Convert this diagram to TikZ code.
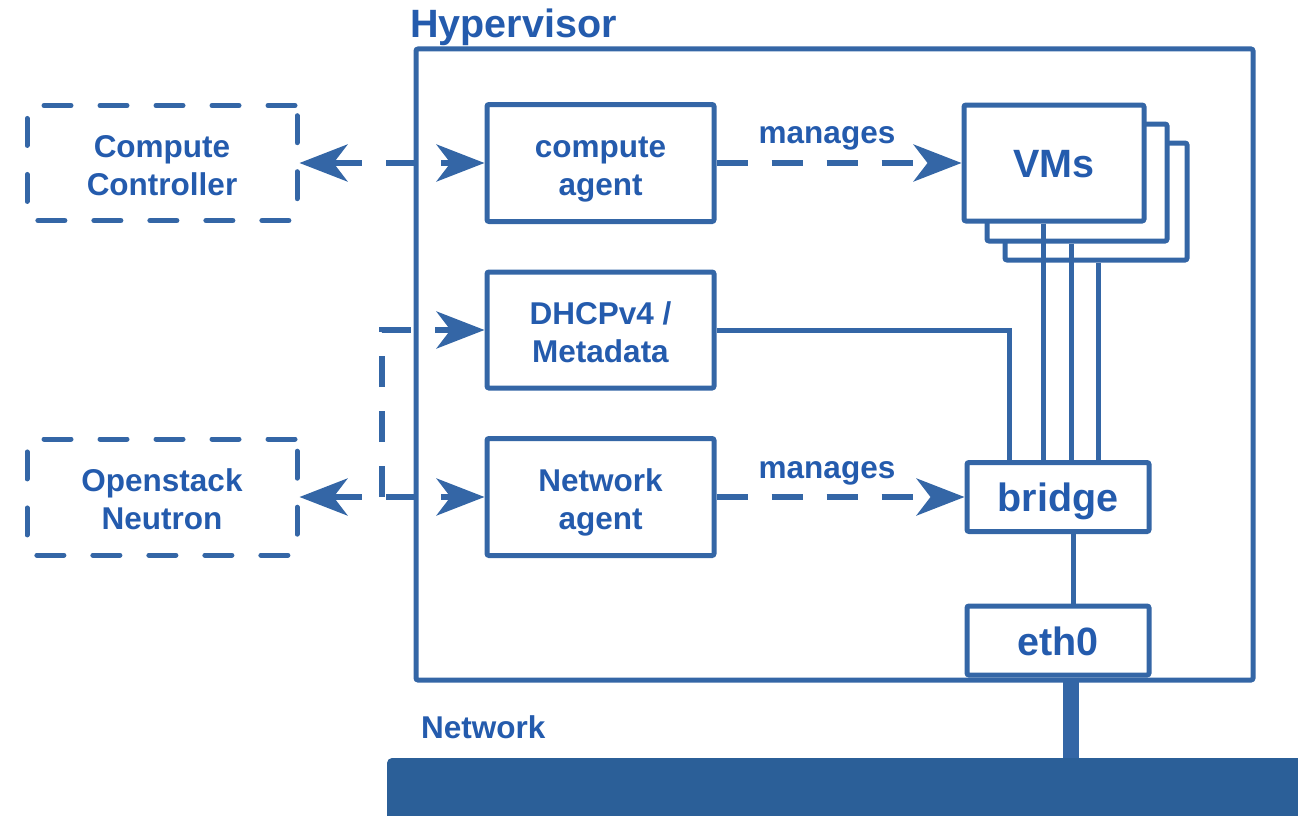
\documentclass[tikz,border=0pt]{standalone}
\usepackage{fontspec}
\setmainfont{Liberation Sans}
\usetikzlibrary{arrows.meta}
\definecolor{lc}{RGB}{52,102,166}
\definecolor{tc}{RGB}{36,91,173}
\definecolor{bc}{RGB}{43,95,152}
\begin{document}
\begin{tikzpicture}[x=1pt,y=-1pt,
  txt/.style={text=tc, font=\bfseries\fontsize{31.5}{38}\selectfont, align=center, inner sep=0pt},
  bigtxt/.style={text=tc, font=\bfseries\fontsize{39.5}{47}\selectfont, align=center, inner sep=0pt},
  box/.style={txt, draw=lc, line width=5pt, fill=white, rounded corners=2pt, text height=65pt, text depth=0pt},
  bigbox/.style={box, font=\bfseries\fontsize{39.5}{47}\selectfont, text height=29pt, text depth=0pt},
  dbox/.style={txt, draw=lc, line width=5pt, line cap=round, dash pattern=on 27pt off 29pt, rounded corners=2pt, text height=65pt, text depth=0pt},
  conn/.style={draw=lc, line width=5pt},
  darrow/.style={draw=lc, line width=5.5pt, dash pattern=on 31pt off 24pt, -{Stealth[length=48pt,width=37pt,inset=14pt]}},
  dbiarrow/.style={darrow, {Stealth[length=48pt,width=37pt,inset=14pt]}-{Stealth[length=48pt,width=37pt,inset=14pt]}},
]
\useasboundingbox (0,0) rectangle (1298,816);

% Hypervisor
\node[draw=lc, line width=5pt, rounded corners=2pt, minimum width=837pt, minimum height=631pt, inner sep=0pt] (hyp) at (834.5,364.5) {};
\node[bigtxt, anchor=base west] (hyplabel) at (410,38) {Hypervisor};

% external dashed boxes
\node[dbox, minimum width=270pt, minimum height=115pt] (cc) at (162,163) {Compute\\Controller};
\node[dbox, minimum width=270pt, minimum height=116pt] (neu) at (162,497) {Openstack\\Neutron};

% agents
\node[box, minimum width=227pt, minimum height=117pt] (ca) at (600.5,163) {compute\\agent};
\node[box, minimum width=227pt, minimum height=116pt] (dhcp) at (600.5,330) {DHCPv4 /\\Metadata};
\node[box, minimum width=227pt, minimum height=117pt] (na) at (600.5,497) {Network\\agent};

% VMs stack
\node[bigbox, minimum width=182pt, minimum height=117pt] (vm3) at (1096,201.5) {};
\node[bigbox, minimum width=180pt, minimum height=117pt] (vm2) at (1077,182.5) {};
\node[bigbox, minimum width=180pt, minimum height=116pt] (vm1) at (1054,163) {VMs};

% bridge and eth0
\node[bigbox, minimum width=182pt, minimum height=69pt] (br) at (1058,497) {bridge};
\node[bigbox, minimum width=182pt, minimum height=69pt] (eth) at (1058,640.5) {eth0};

% network bar
\begin{scope}
\clip (0,0) rectangle (1298,816);
\node[fill=bc, rounded corners=5pt, minimum width=935pt, minimum height=70pt, inner sep=0pt] (net) at (854.5,793) {};
\end{scope}
\node[txt, anchor=base west] (netlabel) at (421,738) {Network};

% connectors inside
\draw[conn] (dhcp.east) -| ([xshift=-49pt]br.north);
\draw[conn] ([xshift=-11pt]vm1.south) -- ([xshift=-11pt]vm1.south |- br.north);
\draw[conn] ([xshift=-6pt]vm2.south) -- ([xshift=-6pt]vm2.south |- br.north);
\draw[conn] ([xshift=2pt]vm3.south) -- ([xshift=2pt]vm3.south |- br.north);
\draw[conn] ([xshift=15pt]br.south) -- ([xshift=15pt]br.south |- eth.north);
\draw[draw=lc, line width=16pt] ([xshift=13pt]eth.south) -- ([xshift=13pt]eth.south |- net.north);

% manages arrows
\draw[darrow] (ca.east) -- (vm1.west);
\node[txt, anchor=base] (m1) at (827,143) {manages};
\draw[darrow] (na.east) -- (br.west);
\node[txt, anchor=base] (m2) at (827,478) {manages};

% external arrows
\draw[dbiarrow] (cc.east) -- (ca.west);
\draw[dbiarrow] (neu.east) -- (na.west);
\coordinate (split) at (382,497);
\draw[darrow] (split) |- (dhcp.west);
\end{tikzpicture}
\end{document}
